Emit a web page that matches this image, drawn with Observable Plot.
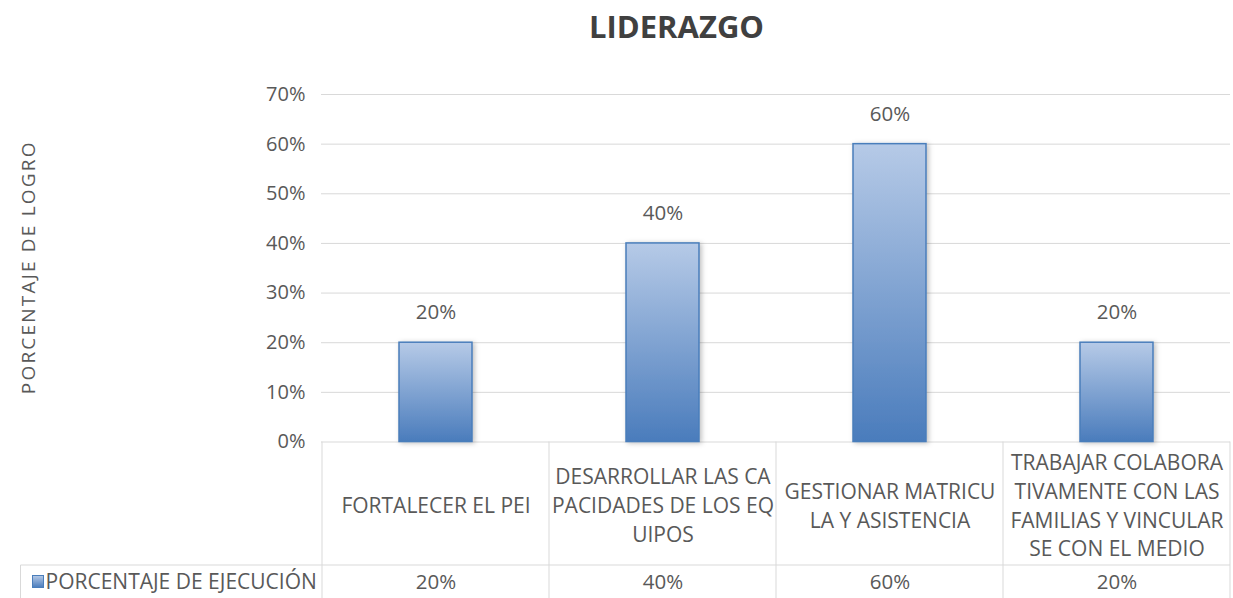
<!DOCTYPE html>
<html>
<head>
<meta charset="utf-8">
<script src="https://cdn.jsdelivr.net/npm/d3@7"></script>
<script src="https://cdn.jsdelivr.net/npm/@observablehq/plot@0.6"></script>
<style>
  html, body { margin: 0; padding: 0; background: #ffffff; }
  #chart { width: 1233px; height: 598px; overflow: hidden; }
</style>
</head>
<body>
<div id="chart"></div>
<script>
// ---- data ----
const title = "LIDERAZGO";
const yLabel = "PORCENTAJE DE LOGRO";
const seriesName = "PORCENTAJE DE EJECUCIÓN";
const categories = [
  "FORTALECER EL PEI",
  "DESARROLLAR LAS CAPACIDADES DE LOS EQUIPOS",
  "GESTIONAR MATRICULA Y ASISTENCIA",
  "TRABAJAR COLABORATIVAMENTE CON LAS FAMILIAS Y VINCULARSE CON EL MEDIO"
];
const categoryLabels = [
  "FORTALECER EL PEI",
  "DESARROLLAR LAS CA\nPACIDADES DE LOS EQ\nUIPOS",
  "GESTIONAR MATRICU\nLA Y ASISTENCIA",
  "TRABAJAR COLABORA\nTIVAMENTE CON LAS\nFAMILIAS Y VINCULAR\nSE CON EL MEDIO"
];
const values = [0.20, 0.40, 0.60, 0.20];
const yTicks = [0, 0.1, 0.2, 0.3, 0.4, 0.5, 0.6, 0.7];

const data = categories.map((c, i) => ({cat: c, label: categoryLabels[i], value: values[i]}));
const pct = d3.format(".0%");

const textColor = "#595959";
const gridColor = "#d9d9d9";
const font = "'Open Sans', 'Noto Sans', sans-serif";

const chart = Plot.plot({
  width: 1233,
  height: 598,
  marginTop: 94,
  marginBottom: 156.5,
  marginLeft: 321,
  marginRight: 3,
  style: {fontFamily: font, fontSize: "20px", color: textColor, background: "#ffffff", overflow: "visible"},
  x: {domain: categories, paddingInner: 0.68, paddingOuter: 0.34, axis: null},
  y: {domain: [0, 0.7], axis: null},
  marks: [
    Plot.ruleY(yTicks, {y: d => d, stroke: gridColor, strokeWidth: 1}),
    Plot.axisY({ticks: yTicks, tickFormat: pct, tickSize: 0, tickPadding: 16, label: null, fill: textColor, fontSize: 20}),
    Plot.barY(data, {x: "cat", y: "value", fill: "url(#barGrad)", stroke: "#4a7ebb", strokeWidth: 1.5}),
    Plot.text(data, {x: "cat", y: "value", text: d => pct(d.value), dy: -30, fill: textColor, fontSize: 20.5}),
    // category labels in the data table header
    Plot.text(data, {x: "cat", text: "label", frameAnchor: "bottom", lineAnchor: "middle", dy: 62, lineHeight: 1.37, fill: textColor, fontSize: 21}),
    // values row of the data table
    Plot.text(data, {x: "cat", text: d => pct(d.value), frameAnchor: "bottom", lineAnchor: "middle", dy: 140, fill: textColor, fontSize: 20.5}),
    // legend label in the data table
    Plot.text([seriesName], {frameAnchor: "bottom-left", lineAnchor: "middle", dx: -276, dy: 140, textAnchor: "start", fill: textColor, fontSize: 21}),
    // title
    Plot.text([title], {frameAnchor: "top-left", lineAnchor: "middle", textAnchor: "middle", dx: 355, dy: -66, fontSize: 31, fontWeight: "bold", fill: "#404040"}),
    // y axis title
    Plot.text([yLabel], {frameAnchor: "left", lineAnchor: "middle", textAnchor: "middle", dx: -293, dy: -1, rotate: -90, fontSize: 19, fill: textColor})
  ]
});

// gradient + shadow definitions
const svg = d3.select(chart);
const defs = svg.insert("defs", ":first-child");
const grad = defs.append("linearGradient").attr("id", "barGrad").attr("x1", 0).attr("y1", 0).attr("x2", 0).attr("y2", 1);
grad.append("stop").attr("offset", "0%").attr("stop-color", "#b6cae7");
grad.append("stop").attr("offset", "100%").attr("stop-color", "#4a7cbc");
const filt = defs.append("filter").attr("id", "barShadow").attr("x", "-20%").attr("y", "-10%").attr("width", "150%").attr("height", "120%");
filt.append("feDropShadow").attr("dx", 2).attr("dy", 1).attr("stdDeviation", 2.5).attr("flood-color", "#000").attr("flood-opacity", 0.25);
svg.selectAll("rect[fill='url(#barGrad)'], g[fill='url(#barGrad)'] rect").attr("filter", "url(#barShadow)");

// wider letter spacing on the y axis title, as in the reference
svg.selectAll("text").filter(function() { return this.textContent === yLabel; })
  .attr("letter-spacing", "2.2px").style("letter-spacing", "2.2px");

// data table grid using the chart's own scales
const xs = chart.scale("x");
const ys = chart.scale("y");
const step = xs.step, bw = xs.bandwidth;
const y0 = ys.apply(0);
const rowY = y0 + 123.5;
const bottomY = 598;
const table = svg.append("g").attr("stroke", gridColor).attr("stroke-width", 1).attr("fill", "none");
const edges = categories.map(c => xs.apply(c) - (step - bw) / 2);
edges.push(edges[edges.length - 1] + step);
edges.forEach(e => table.append("line").attr("x1", e).attr("x2", e).attr("y1", y0).attr("y2", bottomY));
table.append("line").attr("x1", 20.5).attr("x2", edges[edges.length - 1]).attr("y1", rowY).attr("y2", rowY);
table.append("line").attr("x1", 20.5).attr("x2", 20.5).attr("y1", rowY).attr("y2", bottomY);
// legend swatch
svg.append("rect").attr("x", 32.5).attr("y", rowY + 10.5).attr("width", 11).attr("height", 12)
  .attr("fill", "url(#barGrad)").attr("stroke", "#4a7ebb").attr("stroke-width", 1);

document.getElementById("chart").appendChild(chart);
</script>
</body>
</html>
